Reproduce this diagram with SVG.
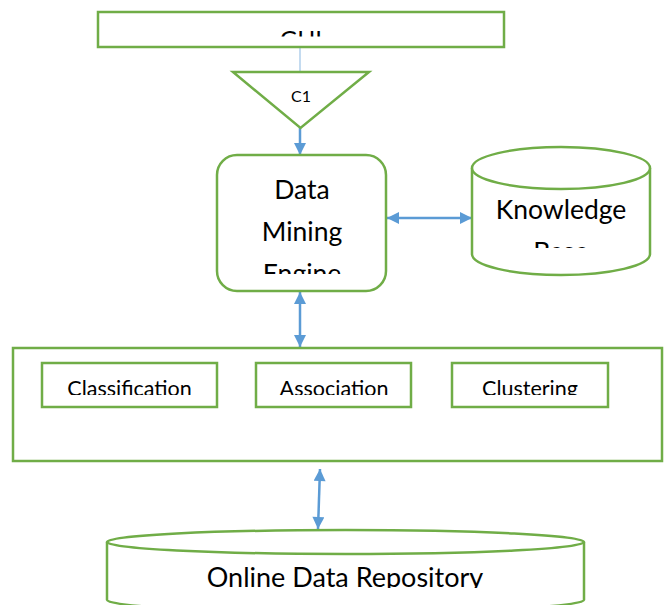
<svg xmlns="http://www.w3.org/2000/svg" width="664" height="605" viewBox="0 0 664 605">
<style>
.g{fill:#fff;stroke:#70AD47;stroke-width:2.5}
.t{font-family:Lato,"Liberation Sans",sans-serif;fill:#000;text-anchor:middle}
.a{stroke:#5B9BD5;stroke-width:2.5;fill:none}
</style>
<defs>
<marker id="ah" viewBox="0 0 12 12" refX="12" refY="6" markerWidth="14" markerHeight="12" markerUnits="userSpaceOnUse" orient="auto-start-reverse"><path d="M0,0 L12,6 L0,12 Z" fill="#5B9BD5"/></marker>
<clipPath id="cGui"><rect x="0" y="0" width="664" height="36.5"/></clipPath>
<clipPath id="cDme"><rect x="0" y="0" width="664" height="274"/></clipPath>
<clipPath id="cKb"><rect x="0" y="0" width="664" height="248"/></clipPath>
<clipPath id="cBox"><rect x="0" y="0" width="664" height="395"/></clipPath>
<clipPath id="cOdr"><rect x="0" y="0" width="664" height="588"/></clipPath>
</defs>
<rect width="664" height="605" fill="#fff"/>
<g id="connectors">
<line x1="300" y1="48" x2="300" y2="72" stroke="#9DC3E6" stroke-width="1.2"/>
<line class="a" x1="300" y1="128" x2="300" y2="155" marker-end="url(#ah)"/>
<line class="a" x1="387" y1="218" x2="472" y2="218" marker-start="url(#ah)" marker-end="url(#ah)"/>
<line class="a" x1="300" y1="292" x2="300" y2="347" marker-start="url(#ah)" marker-end="url(#ah)"/>
<line class="a" x1="320" y1="469" x2="318" y2="529" marker-start="url(#ah)" marker-end="url(#ah)"/>
</g>
<g id="gui">
<rect class="g" x="98" y="12" width="406" height="35"/>
<text class="t" x="301" y="48" font-size="24" clip-path="url(#cGui)">GUI</text>
</g>
<g id="c1">
<polygon class="g" points="233,72 369,72 300.5,128"/>
<text class="t" x="301" y="102" font-size="16">C1</text>
</g>
<g id="dme">
<rect class="g" x="217" y="155" width="169" height="136" rx="20"/>
<g clip-path="url(#cDme)">
<text class="t" x="302" y="199" font-size="26.5">Data</text>
<text class="t" x="302" y="241" font-size="26.5">Mining</text>
<text class="t" x="302" y="283" font-size="26.5">Engine</text>
</g>
</g>
<g id="kb">
<path class="g" d="M472,168 L472,254 A89,21 0 0 0 650,254 L650,168"/>
<ellipse class="g" cx="561" cy="168" rx="89" ry="21"/>
<g clip-path="url(#cKb)">
<text class="t" x="561" y="219" font-size="26.5">Knowledge</text>
<text class="t" x="561" y="261" font-size="26.5">Base</text>
</g>
</g>
<g id="algos">
<rect class="g" x="13" y="348" width="649" height="113"/>
</g>
<g id="classification">
<rect class="g" x="42" y="363" width="175" height="44"/>
<text class="t" x="129.5" y="396" font-size="21.5" clip-path="url(#cBox)">Classification</text>
</g>
<g id="association">
<rect class="g" x="256" y="363" width="155" height="44"/>
<text class="t" x="334" y="396" font-size="21.5" clip-path="url(#cBox)">Association</text>
</g>
<g id="clustering">
<rect class="g" x="452" y="363" width="156" height="44"/>
<text class="t" x="530" y="396" font-size="21.5" clip-path="url(#cBox)">Clustering</text>
</g>
<g id="odr">
<path class="g" d="M107,542 L107,600 A238.5,12 0 0 0 584,600 L584,542"/>
<ellipse class="g" cx="345.5" cy="542" rx="238.5" ry="12"/>
<text class="t" x="345" y="587" font-size="27" clip-path="url(#cOdr)">Online Data Repository</text>
</g>
</svg>
